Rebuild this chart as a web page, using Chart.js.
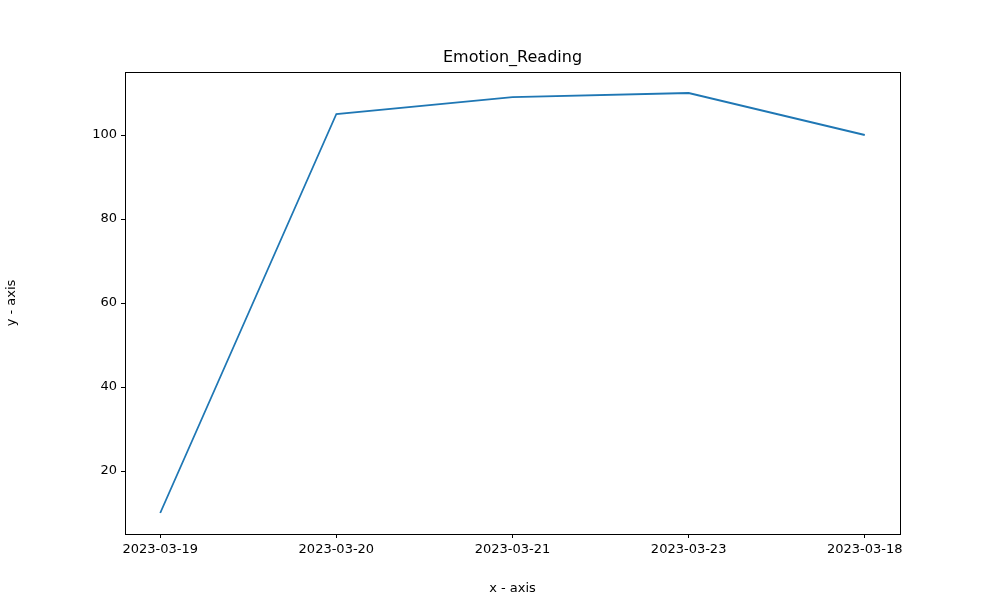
<!DOCTYPE html>
<html><head><script src="https://cdn.jsdelivr.net/npm/chart.js@4"></script>
<style>body{margin:0;background:#fff}</style></head>
<body><canvas id="c" width="1000" height="600"></canvas>
<script>
const categories = ['2023-03-19','2023-03-20','2023-03-21','2023-03-23','2023-03-18'];
const values = [10, 105, 109, 110, 100];
const yTicks = [20, 40, 60, 80, 100];
const font = {family: 'DejaVu Sans', size: 13};
const frame = {id:'frame', afterDraw(c){const a=c.chartArea,x=c.ctx;x.save();x.strokeStyle='#000';x.lineWidth=1;x.strokeRect(Math.round(a.left)+0.5,Math.round(a.top)+0.5,Math.round(a.right-a.left),Math.round(a.bottom-a.top));
x.fillStyle='#000';x.font='16px DejaVu Sans';x.textAlign='center';x.textBaseline='middle';x.fillText('Emotion_Reading',(a.left+a.right)/2,58);x.restore();}};
new Chart(document.getElementById('c'), {
  type: 'line',
  data: {datasets: [{data: values.map((v,i)=>({x:i,y:v})), borderColor:'#1f77b4', borderWidth:1.8, pointRadius:0, tension:0, fill:false}]},
  options: {
    responsive:false, animation:false,
    layout:{padding:{top:72,right:100,left:0,bottom:0}},
    plugins:{legend:{display:false},tooltip:{enabled:false}},
    scales:{
      x:{type:'linear',min:-0.2,max:4.2,
        afterBuildTicks(s){s.ticks=categories.map((_,i)=>({value:i}));},
        afterFit(s){s.height=66;},
        ticks:{callback:v=>categories[v],font,color:'#000',maxRotation:0,autoSkip:false,padding:4},
        grid:{drawOnChartArea:false,tickLength:4,color:'#000'},border:{display:false},
        title:{display:true,text:'x - axis',font,color:'#000',padding:{top:0}}},
      y:{min:5,max:115,
        afterBuildTicks(s){s.ticks=yTicks.map(v=>({value:v}));},
        afterFit(s){s.width=125;},
        ticks:{font,color:'#000',padding:4},
        grid:{drawOnChartArea:false,tickLength:4,color:'#000'},border:{display:false},
        title:{display:true,text:'y - axis',font,color:'#000'}}
    }
  },
  plugins:[frame]
});
</script></body></html>
